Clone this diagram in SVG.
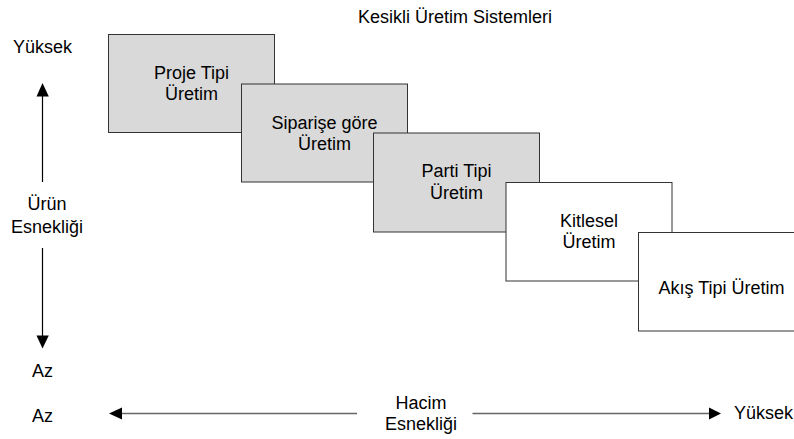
<svg xmlns="http://www.w3.org/2000/svg" width="794" height="439" viewBox="0 0 794 439">
  <style>
    text { font-family: "Liberation Sans", Arial, sans-serif; font-size: 18px; fill: #000; }
    .mid { text-anchor: middle; }
    .box { stroke: #333; stroke-width: 1; }
    .shaded { fill: #d9d9d9; }
    .plain { fill: #fff; }
    .vaxis { stroke: #000; stroke-width: 1.2; fill: none; }
    .haxis { stroke: #666; stroke-width: 1.4; fill: none; }
    .head { fill: #000; stroke: none; }
  </style>
  <rect width="794" height="439" fill="#fff"/>

  <text id="title" class="mid" x="455" y="23">Kesikli Üretim Sistemleri</text>

  <!-- production system boxes, staircase from top-left to bottom-right -->
  <g id="proje">
    <rect class="box shaded" x="108.5" y="34.5" width="166" height="98"/>
    <text class="mid" x="191.5" y="78.5">Proje Tipi</text>
    <text class="mid" x="191.5" y="100">Üretim</text>
  </g>
  <g id="siparis">
    <rect class="box shaded" x="241.5" y="84" width="166" height="98"/>
    <text class="mid" x="324.5" y="128.5">Siparişe göre</text>
    <text class="mid" x="324.5" y="150">Üretim</text>
  </g>
  <g id="parti">
    <rect class="box shaded" x="373.5" y="133" width="166" height="99"/>
    <text class="mid" x="456.5" y="177">Parti Tipi</text>
    <text class="mid" x="456.5" y="198.5">Üretim</text>
  </g>
  <g id="kitlesel">
    <rect class="box plain" x="506" y="182.5" width="166" height="98.5"/>
    <text class="mid" x="589" y="226.5">Kitlesel</text>
    <text class="mid" x="589" y="248">Üretim</text>
  </g>
  <g id="akis">
    <rect class="box plain" x="638.5" y="232.5" width="166" height="98.5"/>
    <text class="mid" x="721.5" y="294">Akış Tipi Üretim</text>
  </g>

  <!-- axes -->
  <g id="connectors">
    <line class="vaxis" x1="42.5" y1="96" x2="42.5" y2="182"/>
    <polygon class="head" points="42.5,83 36.5,96.5 48.8,96.5"/>
    <line class="vaxis" x1="42.5" y1="248" x2="42.5" y2="336"/>
    <polygon class="head" points="42.5,348.5 36.5,335.5 48.8,335.5"/>

    <line class="haxis" x1="121" y1="413.5" x2="357" y2="413.5"/>
    <polygon class="head" points="109,413.5 122,407.5 122,419.5"/>
    <line class="haxis" x1="472.5" y1="413.5" x2="710" y2="413.5"/>
    <polygon class="head" points="721,413.5 709,407.5 709,419.5"/>
  </g>

  <!-- axis labels -->
  <g id="labels">
    <text class="mid" x="42.5" y="53">Yüksek</text>
    <text class="mid" x="47" y="210">Ürün</text>
    <text class="mid" x="47" y="232.5">Esnekliği</text>
    <text class="mid" x="42.5" y="376.5">Az</text>
    <text class="mid" x="42.5" y="421.5">Az</text>
    <text class="mid" x="421" y="409">Hacim</text>
    <text class="mid" x="421" y="430">Esnekliği</text>
    <text x="734" y="419">Yüksek</text>
  </g>
</svg>
